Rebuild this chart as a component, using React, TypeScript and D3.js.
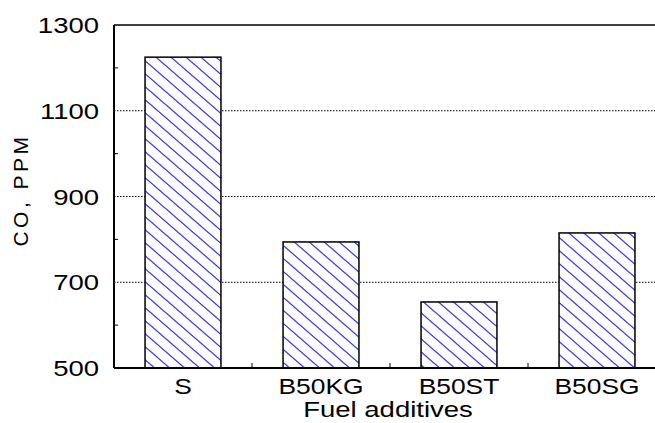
import React from "react";
import * as d3 from "d3";

const categories = ["S", "B50KG", "B50ST", "B50SG"];
const coValues = [1225, 794, 654, 815];
const majorTicks = [500, 700, 900, 1100, 1300];
const minorTicks = [600, 800, 1000, 1200];
const gridTicks = [700, 900, 1100];

const W = 655;
const H = 423;
const left = 114;
const top = 25;
const bottom = 368;

export default function App() {
  const x = d3
    .scaleBand<string>()
    .domain(categories)
    .range([left, 666])
    .paddingInner(0.45)
    .paddingOuter(0.225);
  const y = d3.scaleLinear().domain([500, 1300]).range([bottom, top]);
  const step = x.step();
  const font = "'Liberation Sans', Arial, Helvetica, sans-serif";
  const sx = 1.2;

  return (
    <svg
      width={W}
      height={H}
      style={{ position: "absolute", left: 0, top: 0, background: "#fff" }}
    >
      <defs>
        <pattern id="hatch" patternUnits="userSpaceOnUse" width={15} height={13}>
          <rect width={15} height={13} fill="#fff" />
          <path
            d="M0,0 L15,13 M-15,0 L15,26 M0,-13 L30,13"
            stroke="#3838ff"
            strokeWidth={1.3}
          />
        </pattern>
      </defs>
      {gridTicks.map((t) => (
        <line
          key={"g" + t}
          x1={left}
          x2={W}
          y1={y(t)}
          y2={y(t)}
          stroke="#000"
          strokeWidth={1}
          strokeDasharray="1.5,1.5"
        />
      ))}
      {minorTicks.map((t) => (
        <line key={"m" + t} x1={left} x2={left + 4} y1={y(t)} y2={y(t)} stroke="#000" strokeWidth={1} />
      ))}
      {categories.slice(1).map((c, i) => {
        const bx = left + step * (i + 1);
        return <line key={"xt" + c} x1={bx} x2={bx} y1={bottom} y2={bottom - 5} stroke="#000" strokeWidth={1} />;
      })}
      {categories.map((c, i) => (
        <rect
          key={c}
          x={x(c)}
          y={y(coValues[i])}
          width={x.bandwidth()}
          height={bottom - y(coValues[i])}
          fill="url(#hatch)"
          stroke="#000"
          strokeWidth={1.5}
        />
      ))}
      <line x1={left} x2={W} y1={top} y2={top} stroke="#000" strokeWidth={1.5} />
      <line x1={left} x2={left} y1={top} y2={bottom} stroke="#000" strokeWidth={2} />
      <line x1={left} x2={W} y1={bottom} y2={bottom} stroke="#000" strokeWidth={2} />
      {majorTicks.map((t) => (
        <text
          key={"yl" + t}
          transform={`translate(99,${y(t) + 8}) scale(1.25,1)`}
          textAnchor="end"
          fontFamily={font}
          fontSize={22}
          fill="#000"
        >
          {t}
        </text>
      ))}
      {categories.map((c) => (
        <text
          key={"xl" + c}
          transform={`translate(${(x(c) as number) + x.bandwidth() / 2},394) scale(${sx},1)`}
          textAnchor="middle"
          fontFamily={font}
          fontSize={22}
          fill="#000"
        >
          {c}
        </text>
      ))}
      <text
        transform={`translate(388,417) scale(1.25,1)`}
        textAnchor="middle"
        fontFamily={font}
        fontSize={22}
        fill="#000"
      >
        Fuel additives
      </text>
      <text
        transform={`translate(28,190) rotate(-90)`}
        textAnchor="middle"
        fontFamily={font}
        fontSize={21}
        letterSpacing={3.5}
        fill="#000"
      >
        CO, PPM
      </text>
    </svg>
  );
}
